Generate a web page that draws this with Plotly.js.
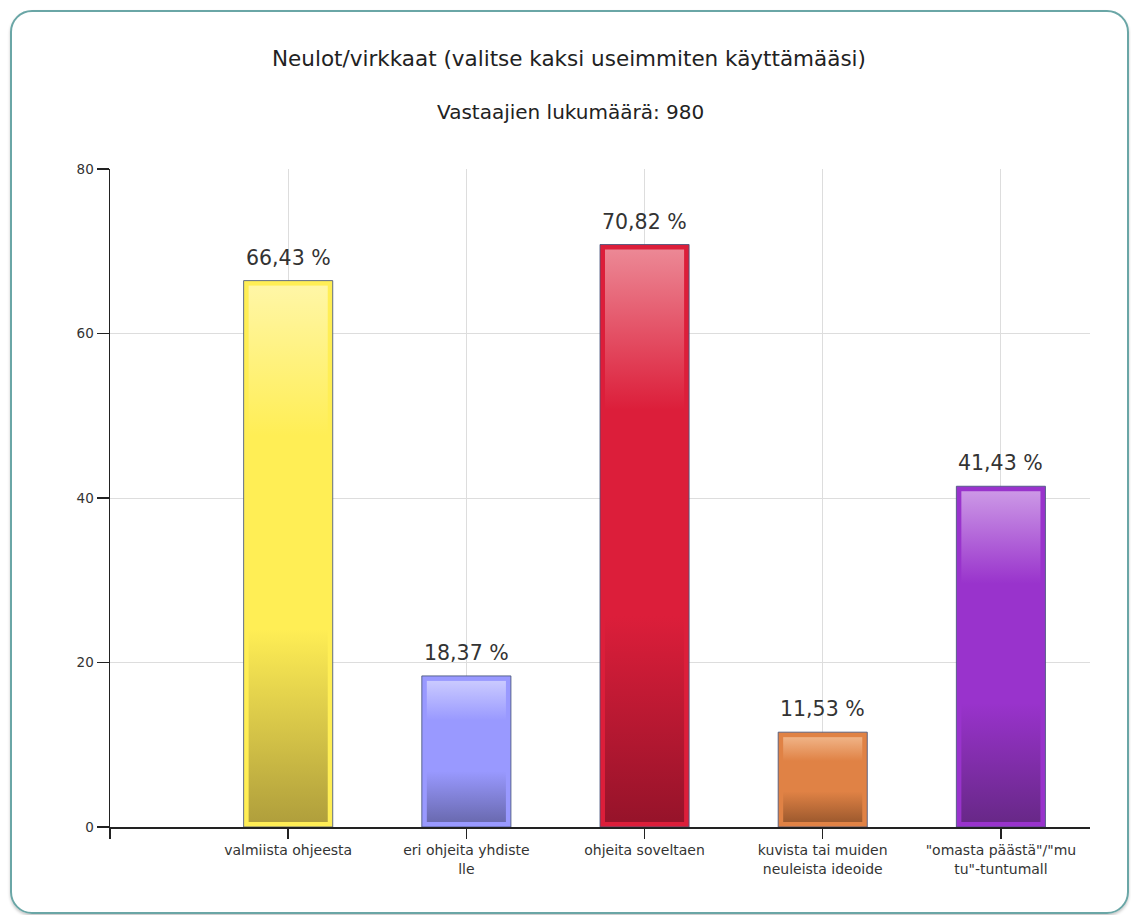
<!DOCTYPE html>
<html>
<head>
<meta charset="utf-8">
<script src="https://cdn.plot.ly/plotly-3.0.1.min.js"></script>
<style>
  html, body { margin: 0; padding: 0; background: #ffffff; }
  #frame {
    position: absolute; left: 10px; top: 10px; width: 1119px; height: 904px;
    box-sizing: border-box; border: 2px solid #6aa6a6; border-radius: 22px;
    box-shadow: 0 2px 3px rgba(0,0,0,0.22);
  }
  #chart { position: absolute; left: 0; top: 0; width: 1131px; height: 915px; }
</style>
</head>
<body>
<div id="frame"></div>
<div id="chart"></div>
<script>
// ---- data ----
const chartTitle = "Neulot/virkkaat (valitse kaksi useimmiten käyttämääsi)";
const subTitle = "Vastaajien lukumäärä: 980";
const categories = [
  "valmiista ohjeesta",
  "eri ohjeita yhdiste<br>lle",
  "ohjeita soveltaen",
  "kuvista tai muiden<br>neuleista ideoide",
  "\"omasta päästä\"/\"mu<br>tu\"-tuntumall"
];
const values = [66.43, 18.37, 70.82, 11.53, 41.43];
const baseColors = ["#ffee55", "#9999ff", "#dc1e3a", "#e08245", "#9933cc"];
const lightColors = ["#fff6a6", "#cacaff", "#ec8895", "#f0b386", "#cc98e6"];
const darkColors = ["#b09f3c", "#6a6ab0", "#96132a", "#9e5a2e", "#682888"];
const yTicks = [0, 20, 40, 60, 80];

// ---- chart ----
const FONT = 'DejaVu Sans, Verdana, sans-serif';
const xs = categories.map((c, i) => i);
const fmt = v => v.toFixed(2).replace('.', ',') + ' %';

const trace = {
  type: 'bar',
  x: xs,
  y: values,
  width: 0.5,
  marker: { color: baseColors, line: { color: 'rgba(70,85,125,0.85)', width: 1 } },
  hoverinfo: 'none',
  showlegend: false
};

const annotations = values.map((v, i) => ({
  x: xs[i], y: v, xref: 'x', yref: 'y',
  text: fmt(v), showarrow: false,
  yanchor: 'middle', yshift: 23,
  font: { family: FONT, size: 20.5, color: '#333333' }
}));
annotations.push({
  xref: 'paper', yref: 'paper',
  x: (570 - 110) / 980, y: (827 - 112) / 658,
  xanchor: 'center', yanchor: 'middle', showarrow: false,
  text: subTitle,
  font: { family: FONT, size: 20, color: '#222222' }
});

const layout = {
  width: 1131, height: 915,
  paper_bgcolor: 'rgba(0,0,0,0)',
  plot_bgcolor: 'rgba(0,0,0,0)',
  margin: { l: 110, r: 41, t: 169, b: 88 },
  font: { family: FONT, color: '#333333' },
  title: {
    text: chartTitle,
    x: 569 / 1131, xanchor: 'center', xref: 'container',
    y: 1 - 58 / 915, yanchor: 'middle', yref: 'container',
    font: { family: FONT, size: 21.5, color: '#222222' }
  },
  xaxis: {
    range: [-1, 4.5],
    tickmode: 'array',
    tickvals: [-1].concat(xs),
    ticktext: [''].concat(categories),
    ticks: 'outside', ticklen: 10, tickwidth: 1.5, tickcolor: '#222222',
    showline: true, linecolor: '#222222', linewidth: 1.5,
    showgrid: true, gridcolor: '#dddddd', gridwidth: 1,
    zeroline: false,
    tickfont: { size: 14, color: '#333333' },
    fixedrange: true
  },
  yaxis: {
    range: [0, 80],
    tickmode: 'array',
    tickvals: yTicks,
    ticktext: yTicks.map(String),
    ticks: 'outside', ticklen: 12, tickwidth: 1.5, tickcolor: '#222222',
    showline: true, linecolor: '#222222', linewidth: 1.5,
    showgrid: true, gridcolor: '#dddddd', gridwidth: 1,
    zeroline: false,
    tickfont: { size: 13.5, color: '#333333' },
    fixedrange: true
  },
  annotations: annotations
};

Plotly.newPlot('chart', [trace], layout, { displayModeBar: false, staticPlot: true }).then(gd => {
  const NS = 'http://www.w3.org/2000/svg';
  const svg = gd.querySelector('svg.main-svg');
  let defs = svg.querySelector('defs');
  if (!defs) { defs = document.createElementNS(NS, 'defs'); svg.insertBefore(defs, svg.firstChild); }
  baseColors.forEach((c, i) => {
    const g = document.createElementNS(NS, 'linearGradient');
    g.setAttribute('id', 'barGrad' + i);
    g.setAttribute('x1', '0'); g.setAttribute('y1', '0');
    g.setAttribute('x2', '0'); g.setAttribute('y2', '1');
    [[0, lightColors[i]], [0.28, c], [0.64, c], [1, darkColors[i]]].forEach(([o, col]) => {
      const s = document.createElementNS(NS, 'stop');
      s.setAttribute('offset', o);
      s.setAttribute('stop-color', col);
      g.appendChild(s);
    });
    defs.appendChild(g);
  });
  const paths = gd.querySelectorAll('.barlayer .point path');
  paths.forEach((p, i) => {
    const bb = p.getBBox();
    const inset = 5;
    const r = document.createElementNS(NS, 'rect');
    r.setAttribute('x', bb.x + inset);
    r.setAttribute('y', bb.y + inset);
    r.setAttribute('width', Math.max(0, bb.width - 2 * inset));
    r.setAttribute('height', Math.max(0, bb.height - 2 * inset));
    r.setAttribute('fill', 'url(#barGrad' + i + ')');
    p.parentNode.appendChild(r);
  });
});
</script>
</body>
</html>
